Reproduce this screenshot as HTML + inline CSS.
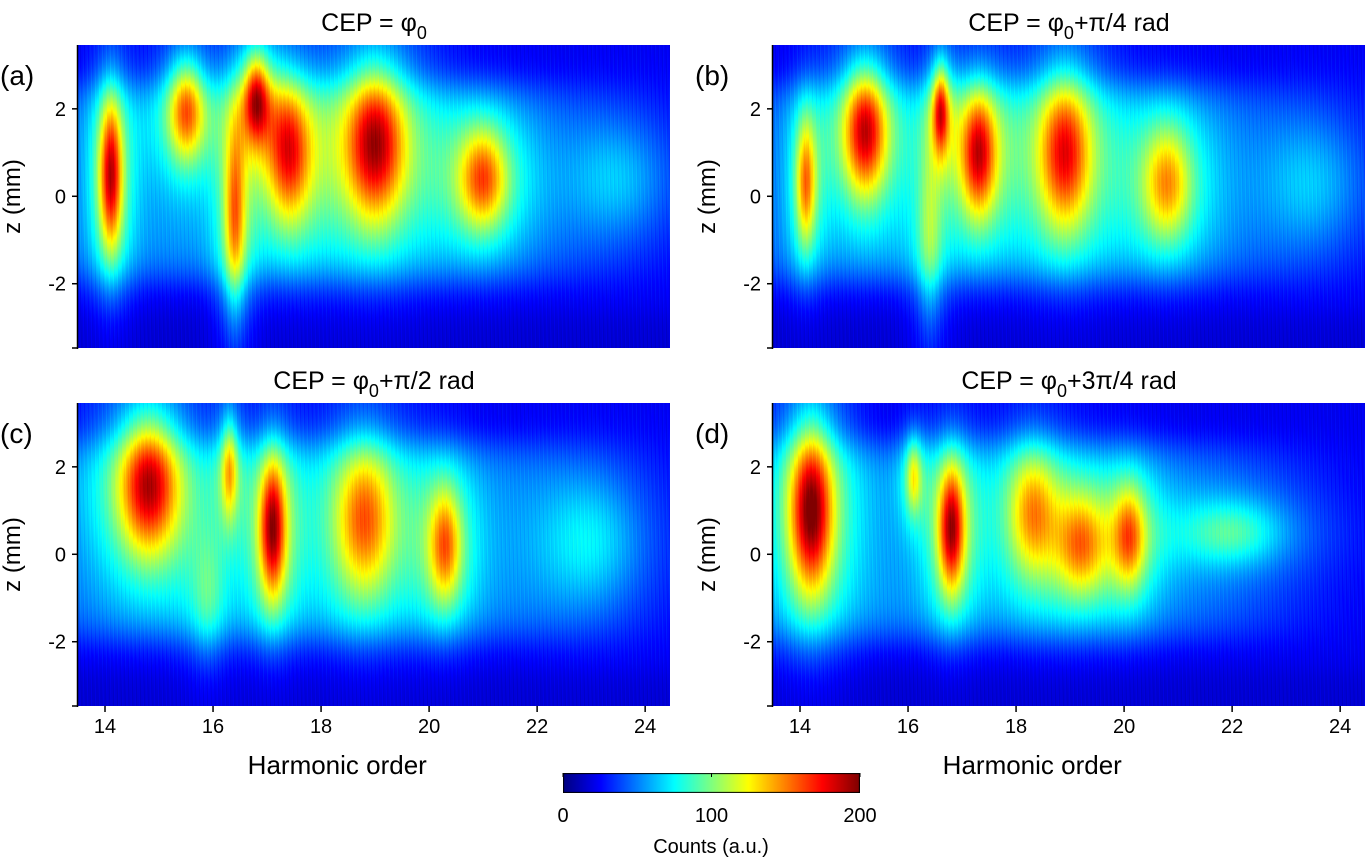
<!DOCTYPE html>
<html><head><meta charset="utf-8">
<style>
body{margin:0;background:#fff;width:1365px;height:860px;overflow:hidden;position:relative;font-family:"Liberation Sans",sans-serif;}
canvas{position:absolute;}
svg{position:absolute;left:0;top:0;}
</style></head>
<body>
<canvas id="ca" width="592" height="303" style="left:78px;top:45px"></canvas>
<canvas id="cb" width="592" height="303" style="left:773px;top:45px"></canvas>
<canvas id="cc" width="592" height="303" style="left:78px;top:403px"></canvas>
<canvas id="cd" width="592" height="303" style="left:773px;top:403px"></canvas>
<canvas id="cbar" width="297" height="20" style="left:563px;top:773px"></canvas>
<svg id="ov" width="1365" height="860"></svg>
<script>
// Axis ranges
const xMin = 13.5, xMax = 24.46, zMin = -3.47, zMax = 3.46, cMax = 200;
const xTicks = [14,16,18,20,22,24];
const zTicks = [-2,0,2];
const cTicks = [0,100,200];
// Blob data per panel: [harmonic, z, amplitude, sigmaX, sigmaZ]
const blobsA = [[14.1,0.5,140,0.14,1.2],[15.5,2.0,110,0.22,0.8],[16.4,-0.5,95,0.13,1.4],[16.8,2.3,120,0.16,0.7],[17.4,1.0,115,0.27,1.1],[19.0,1.2,140,0.36,1.2],[21.0,0.4,110,0.3,0.8],[23.5,0.4,35,0.6,0.9]];
const blobsB = [[14.1,0.3,100,0.12,1.0],[15.2,1.5,135,0.26,1.0],[16.6,2.0,110,0.1,0.7],[16.4,-1.0,50,0.15,1.4],[17.3,1.0,130,0.22,1.0],[18.9,1.0,125,0.32,1.2],[20.8,0.3,95,0.3,0.9],[23.5,0.3,35,0.6,1.0]];
const blobsC = [[14.8,1.6,140,0.36,1.1],[16.3,2.0,80,0.1,0.8],[17.1,0.6,140,0.16,1.1],[18.8,0.8,105,0.36,1.2],[20.3,0.2,100,0.2,0.9],[23.0,0.3,40,0.6,1.0],[15.9,-1.0,35,0.2,1.0]];
const blobsD = [[14.2,1.0,155,0.26,1.3],[16.1,1.8,70,0.1,0.6],[16.8,0.6,140,0.16,1.0],[18.3,1.0,85,0.3,1.0],[19.2,0.2,85,0.3,0.8],[20.1,0.4,90,0.2,0.8],[22.0,0.5,50,0.6,0.5]];
const titles = [["CEP = φ","0",""],["CEP = φ","0","+π/4 rad"],["CEP = φ","0","+π/2 rad"],["CEP = φ","0","+3π/4 rad"]];
const letters = ["(a)","(b)","(c)","(d)"];

function jet(v){v=Math.max(0,Math.min(1,v));const c=t=>Math.max(0,Math.min(1,t));
return [c(1.5-Math.abs(4*v-3))*255,c(1.5-Math.abs(4*v-2))*255,c(1.5-Math.abs(4*v-1))*255];}
function draw(id,blobs){
 const cv=document.getElementById(id),ctx=cv.getContext('2d'),W=cv.width,H=cv.height;
 const img=ctx.createImageData(W,H);
 for(let j=0;j<H;j++){const z=zMax-(j/(H-1))*(zMax-zMin);
  for(let i=0;i<W;i++){const x=xMin+(i/(W-1))*(xMax-xMin);
   let v=22+33*Math.exp(-Math.pow((z-0.3)/2.3,6))*Math.exp(-Math.pow((x-17.5)/5.5,4));
   v-=6/(1+Math.exp((z+2.7)*6));
   for(const b of blobs){const dx=(x-b[0])/b[3],dz=(z-b[1])/b[4];
    v+=0.6*b[2]*Math.exp(-0.5*(dx*dx+dz*dz));
    const hx=dx/2.2,hz=dz/1.5;v+=0.4*b[2]*Math.exp(-0.5*(hx*hx+hz*hz));}
   v+=5*Math.sin(i*2.3)*Math.sin(i*0.7+j*0.05);
   const c=jet(v/cMax),k=(j*W+i)*4;img.data[k]=c[0];img.data[k+1]=c[1];img.data[k+2]=c[2];img.data[k+3]=255;}}
 ctx.putImageData(img,0,0);}
draw('ca',blobsA);draw('cb',blobsB);draw('cc',blobsC);draw('cd',blobsD);
(function(){const cv=document.getElementById('cbar'),ctx=cv.getContext('2d');
 for(let i=0;i<cv.width;i++){const c=jet(i/(cv.width-1));ctx.fillStyle=`rgb(${c[0]|0},${c[1]|0},${c[2]|0})`;ctx.fillRect(i,0,1,cv.height);}
 ctx.strokeStyle='#000';ctx.lineWidth=1;ctx.strokeRect(0.5,0.5,cv.width-1,cv.height-1);})();

const ov=document.getElementById('ov'),NS='http://www.w3.org/2000/svg';
function el(tag,attrs,text){const e=document.createElementNS(NS,tag);for(const k in attrs)e.setAttribute(k,attrs[k]);if(text!==undefined)e.textContent=text;ov.appendChild(e);return e;}
const panels=[[78,45],[773,45],[78,403],[773,403]];
const PW=592,PH=303;
panels.forEach((p,idx)=>{
 const [L,T]=p;
 const sx=x=>L+(x-xMin)/(xMax-xMin)*PW, sz=z=>T+(zMax-z)/(zMax-zMin)*PH;
 const ax=el('line',{x1:L-0.5,y1:T,x2:L-0.5,y2:T+PH+1,stroke:'#000','stroke-width':1.5});
 
 zTicks.concat([zMin]).forEach(z=>{const t=el('line',{x1:L-6,y1:sz(z),x2:L,y2:sz(z),stroke:'#000','stroke-width':1.5});
  });
 zTicks.forEach(z=>{const t=el('text',{x:L-12,y:sz(z)+7,'text-anchor':'end','font-size':20},String(z));
  });
 const yl=el('text',{x:0,y:0,'text-anchor':'middle','font-size':24,transform:`translate(${L-58},${T+PH/2}) rotate(-90)`},'z (mm)');
 
 const lt=el('text',{x:L-78,y:T+40,'font-size':28},letters[idx]);
 
 const tt=titles[idx];
 const ti=el('text',{x:L+PW/2,y:T-14,'text-anchor':'middle','font-size':25});
 
 const s1=document.createElementNS(NS,'tspan');s1.textContent=tt[0];ti.appendChild(s1);
 const s2=document.createElementNS(NS,'tspan');s2.setAttribute('dy','8');s2.setAttribute('font-size','18');s2.textContent=tt[1];ti.appendChild(s2);
 const s3=document.createElementNS(NS,'tspan');s3.setAttribute('dy','-8');s3.textContent=tt[2];ti.appendChild(s3);
 if(idx>=2){
  xTicks.forEach(x=>{const t=el('line',{x1:sx(x),y1:T+PH,x2:sx(x),y2:T+PH+6,stroke:'#000','stroke-width':1.5});
   
   const lb=el('text',{x:sx(x),y:T+PH+27,'text-anchor':'middle','font-size':20},String(x));
   });
  const xl=el('text',{x:sx(18.3),y:T+PH+68,'text-anchor':'middle','font-size':26},'Harmonic order');
  
 }
});
cTicks.forEach(c=>{const x=563+c/cMax*297;
 const t=el('line',{x1:x,y1:773,x2:x,y2:777,stroke:'#000'});
 const lb=el('text',{x:x,y:822,'text-anchor':'middle','font-size':20},String(c));
 });
const cl=el('text',{x:711,y:853,'text-anchor':'middle','font-size':20},'Counts (a.u.)');

</script>
</body></html>
